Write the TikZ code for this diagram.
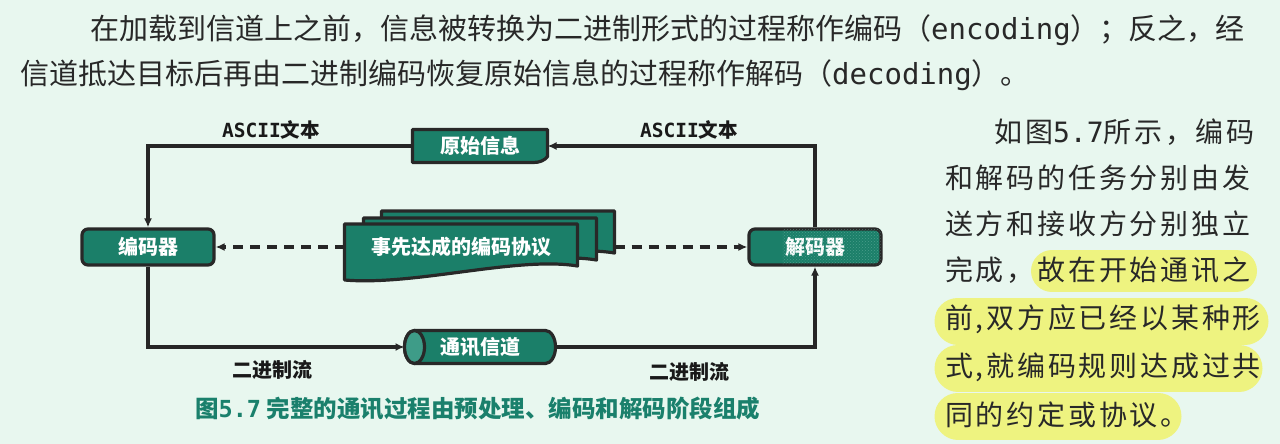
\documentclass[tikz,border=0pt]{standalone}
\usepackage{fontspec}
\setmainfont{Noto Sans CJK SC}
\newfontfamily\monof{DejaVu Sans Mono}
\newfontfamily\sidecjk{Noto Sans CJK SC}[LetterSpace=10]
\usetikzlibrary{arrows.meta,calc,patterns}

\definecolor{bgmint}{RGB}{232,247,239}
\definecolor{boxteal}{RGB}{27,127,105}
\definecolor{faceteal}{RGB}{62,156,136}
\definecolor{edgegray}{RGB}{40,40,40}
\definecolor{linegray}{RGB}{38,38,38}
\definecolor{labelblack}{RGB}{25,25,25}
\definecolor{captionteal}{RGB}{26,128,108}
\definecolor{hlyellow}{RGB}{238,243,128}
\definecolor{bodytext}{RGB}{40,40,40}

\newcommand\nodefont{\fontsize{20}{24}\selectfont\bfseries}
\newcommand\lblfont{\fontsize{19.5}{23}\selectfont\bfseries}
\newcommand\bodyfont{\fontsize{29}{34}\selectfont}
\newcommand\sidefont{\sidecjk\fontsize{28}{34}\selectfont}

\pgfdeclarelayer{back}
\pgfdeclarelayer{bg}
\pgfsetlayers{back,bg,main}

% document outline with a wavy lower edge, built on a node's anchors
\newcommand\drawdoc[1]{%
  \path[shapefill] (#1.north west) -- (#1.north east) -- ($(#1.south east)+(0,-4)$)
    .. controls ($(#1.south east)+(-60,-14)$) and ($(#1.south west)+(70,16)$) ..
    ($(#1.south west)+(0,10)$) -- cycle;}

\begin{document}
\begin{tikzpicture}[x=1pt,y=-1pt,
  box/.style={fill=boxteal, draw=edgegray, line width=3.2pt, rounded corners=6pt,
    minimum width=132pt, minimum height=36pt, text=white, font=\nodefont, inner sep=0pt},
  plain/.style={inner sep=0pt, outer sep=0pt, text=white, font=\nodefont},
  flow/.style={draw=linegray, line width=3.2pt, -{Latex[length=9pt,width=8pt]}},
  agree/.style={flow, dash pattern=on 10pt off 7pt},
  shapefill/.style={fill=boxteal, draw=edgegray, line width=3.2pt, line join=round},
  lbl/.style={font=\lblfont, text=labelblack, inner sep=0pt},
  para/.style={font=\bodyfont, text=bodytext, inner sep=0pt, anchor=west},
  side/.style={font=\sidefont, text=bodytext, inner sep=0pt, anchor=west},
  hl/.style={draw=hlyellow, line cap=round},
]
\useasboundingbox (0,0) rectangle (1280,444);
\begin{pgfonlayer}{back}
  \fill[bgmint] (0,0) rectangle (1280,444);
  % highlighter strokes behind the side paragraph
  \draw[hl, line width=42pt] (1052,271) -- (1236,271);
  \draw[hl, line width=47pt] (958,321) -- (1245,321);
  \draw[hl, line width=47pt] (958,368) -- (1239,368);
  \draw[hl, line width=47pt] (958,416) -- (1158,416);
\end{pgfonlayer}

% paragraph above the figure
\node[para] (t1) at (90,30) {在加载到信道上之前，信息被转换为二进制形式的过程称作编码（{\monof encoding}）；反之，经};
\node[para] (t2) at (20,75) {信道抵达目标后再由二进制编码恢复原始信息的过程称作解码（{\monof decoding}）。};

% side paragraph
\node[side, anchor=east] (s1) at (1255,132) {如图{\monof 5.7}所示，编码};
\node[side] (s2) at (945,178) {和解码的任务分别由发};
\node[side] (s3) at (945,224) {送方和接收方分别独立};
\node[side] (s4) at (945,270) {完成，故在开始通讯之};
\node[side] (s5) at (945,319) {前,双方应已经以某种形};
\node[side] (s6) at (945,367) {式,就编码规则达成过共};
\node[side] (s7) at (945,415) {同的约定或协议。};

% figure nodes
\node[box] (enc) at (148,247) {编码器};
\node[box] (dec) at (815,247) {解码器};
\node[plain, minimum width=135pt, minimum height=33pt] (orig) at (480,146) {原始信息};
\node[plain, minimum width=233pt, minimum height=46pt] (proto3) at (498,234) {};
\node[plain, minimum width=233pt, minimum height=46pt] (proto2) at (480,241) {};
\node[plain, minimum width=233pt, minimum height=46pt] (proto) at (461,247) {事先达成的编码协议};
\node[plain, minimum width=151pt, minimum height=33pt, xshift=3pt] (chan) at (477,347) {通讯信道};

\begin{pgfonlayer}{bg}
  \path[shapefill] (orig.north west) -- (orig.north east) -- ($(orig.south east)+(0,-6)$)
    .. controls ($(orig.south east)+(-3,-2)$) and ($(orig.south east)+(-8,0)$) ..
    ($(orig.south east)+(-14,0)$) -- (orig.south west) -- cycle;
  \drawdoc{proto3}
  \drawdoc{proto2}
  \drawdoc{proto}
  % channel drawn as a lying cylinder
  \path[shapefill] ($(chan.north west)+(10,0)$) -- ($(chan.north east)+(-10,0)$)
    arc[start angle=-90, end angle=90, x radius=10, y radius=16.5]
    -- ($(chan.south west)+(10,0)$)
    arc[start angle=90, end angle=270, x radius=10, y radius=16.5] -- cycle;
  \path[fill=faceteal, draw=edgegray, line width=3.2pt] ($(chan.west)+(10,0)$)
    ellipse[x radius=10, y radius=16.5];
\end{pgfonlayer}

% worn speckle on the decoder box
\begin{scope}
  \clip[rounded corners=6pt] (dec.north west) rectangle (dec.south east);
  \fill[pattern=crosshatch dots, pattern color=faceteal!70!white, opacity=0.5]
    ($(dec.north west)+(35,2)$) rectangle ($(dec.south east)+(-2,-2)$);
\end{scope}

% connectors
\draw[flow] (orig.west) -| (enc.north);
\draw[flow] (dec.north) |- (orig.east);
\draw[flow] (enc.south) |- (chan.west);
\draw[flow] (chan.east) -| (dec.south);
\draw[agree] (proto.west) -- (enc.east);
\draw[agree] (proto3.east |- dec.west) -- (dec.west);

% connector labels
\node[lbl] (asciiL) at (271,130) {{\monof ASCII}文本};
\node[lbl] (asciiR) at (689,130) {{\monof ASCII}文本};
\node[lbl, font=\fontsize{20}{24}\selectfont\bfseries] (binL) at (272,370) {二进制流};
\node[lbl, font=\fontsize{20}{24}\selectfont\bfseries] (binR) at (689,372) {二进制流};

% caption
\node[inner sep=0pt, anchor=west, text=captionteal, font=\fontsize{23.5}{28}\selectfont\bfseries] (cap) at (195,409)
  {图{\monof 5.7} 完整的通讯过程由预处理、编码和解码阶段组成};
\end{tikzpicture}
\end{document}
